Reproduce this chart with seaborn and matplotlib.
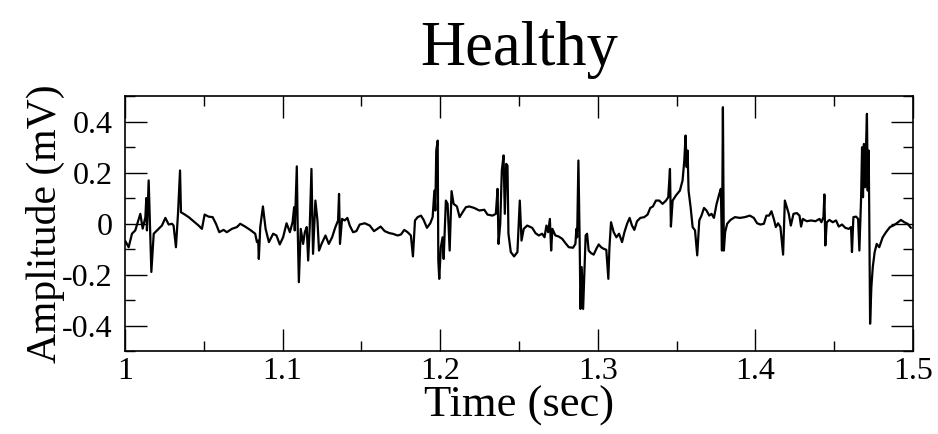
import matplotlib
matplotlib.use("Agg")
import matplotlib.pyplot as plt
from matplotlib.ticker import MultipleLocator
import seaborn as sns
import pandas as pd

# ECG trace (time in s, amplitude in mV)
time = [
    1.0000, 1.0023, 1.0044, 1.0065, 1.0097, 1.0112, 1.0129, 1.0135, 1.0139, 1.0150,
    1.0167, 1.0182, 1.0213, 1.0234, 1.0256, 1.0277, 1.0298, 1.0308, 1.0323, 1.0336,
    1.0349, 1.0355, 1.0372, 1.0404, 1.0435, 1.0467, 1.0488, 1.0505, 1.0530, 1.0556,
    1.0577, 1.0598, 1.0625, 1.0646, 1.0678, 1.0710, 1.0731, 1.0762, 1.0794, 1.0826,
    1.0837, 1.0845, 1.0849, 1.0858, 1.0875, 1.0892, 1.0913, 1.0940, 1.0961, 1.0982,
    1.1003, 1.1025, 1.1046, 1.1063, 1.1073, 1.1077, 1.1090, 1.1096, 1.1103, 1.1115,
    1.1130, 1.1141, 1.1153, 1.1162, 1.1172, 1.1183, 1.1193, 1.1208, 1.1221, 1.1231,
    1.1247, 1.1272, 1.1293, 1.1314, 1.1335, 1.1352, 1.1358, 1.1364, 1.1377, 1.1394,
    1.1411, 1.1426, 1.1447, 1.1468, 1.1489, 1.1521, 1.1553, 1.1580, 1.1601, 1.1622,
    1.1648, 1.1679, 1.1698, 1.1730, 1.1751, 1.1772, 1.1793, 1.1814, 1.1827, 1.1840,
    1.1857, 1.1878, 1.1895, 1.1916, 1.1937, 1.1952, 1.1963, 1.1969, 1.1975, 1.1984,
    1.1988, 1.1994, 1.2004, 1.2015, 1.2022, 1.2036, 1.2047, 1.2060, 1.2072, 1.2085,
    1.2106, 1.2123, 1.2142, 1.2163, 1.2184, 1.2216, 1.2248, 1.2280, 1.2300, 1.2332,
    1.2353, 1.2364, 1.2370, 1.2381, 1.2391, 1.2402, 1.2410, 1.2419, 1.2427, 1.2433,
    1.2448, 1.2469, 1.2490, 1.2505, 1.2516, 1.2530, 1.2552, 1.2584, 1.2605, 1.2626,
    1.2647, 1.2662, 1.2674, 1.2685, 1.2696, 1.2704, 1.2712, 1.2731, 1.2752, 1.2774,
    1.2795, 1.2816, 1.2843, 1.2858, 1.2864, 1.2869, 1.2877, 1.2885, 1.2890, 1.2898,
    1.2907, 1.2915, 1.2923, 1.2932, 1.2942, 1.2957, 1.2974, 1.2991, 1.3006, 1.3021,
    1.3037, 1.3054, 1.3067, 1.3074, 1.3084, 1.3101, 1.3118, 1.3135, 1.3154, 1.3169,
    1.3186, 1.3202, 1.3217, 1.3232, 1.3249, 1.3270, 1.3295, 1.3316, 1.3333, 1.3350,
    1.3369, 1.3390, 1.3411, 1.3433, 1.3447, 1.3458, 1.3464, 1.3475, 1.3496, 1.3521,
    1.3538, 1.3549, 1.3557, 1.3564, 1.3570, 1.3576, 1.3589, 1.3602, 1.3617, 1.3631,
    1.3644, 1.3658, 1.3674, 1.3690, 1.3707, 1.3722, 1.3737, 1.3754, 1.3771, 1.3781,
    1.3788, 1.3794, 1.3800, 1.3808, 1.3821, 1.3842, 1.3870, 1.3902, 1.3933, 1.3965,
    1.3990, 1.4011, 1.4032, 1.4054, 1.4070, 1.4087, 1.4102, 1.4117, 1.4130, 1.4144,
    1.4159, 1.4176, 1.4187, 1.4212, 1.4225, 1.4242, 1.4263, 1.4280, 1.4290, 1.4301,
    1.4326, 1.4354, 1.4381, 1.4407, 1.4419, 1.4432, 1.4438, 1.4444, 1.4453, 1.4470,
    1.4491, 1.4512, 1.4529, 1.4550, 1.4571, 1.4593, 1.4607, 1.4613, 1.4622, 1.4639,
    1.4652, 1.4660, 1.4671, 1.4677, 1.4683, 1.4689, 1.4696, 1.4702, 1.4708, 1.4713,
    1.4719, 1.4723, 1.4728, 1.4736, 1.4745, 1.4757, 1.4770, 1.4786, 1.4808, 1.4829,
    1.4854, 1.4875, 1.4897, 1.4924, 1.4945, 1.4966, 1.4987,
]
amplitude = [
    -0.067, -0.093, -0.040, -0.027, 0.038, -0.020, 0.025, 0.100, -0.027, 0.169,
    -0.190, -0.040, -0.021, -0.008, 0.022, -0.004, -0.001, -0.008, -0.093, 0.038,
    0.208, 0.044, 0.038, 0.025, 0.009, -0.008, -0.021, 0.035, 0.027, 0.025,
    -0.001, -0.034, -0.025, -0.034, -0.021, -0.014, -0.001, -0.012, -0.025, -0.040,
    -0.073, -0.067, -0.139, -0.014, 0.067, -0.021, -0.073, -0.040, -0.047, -0.082,
    -0.054, 0.001, -0.034, 0.005, 0.064, -0.027, 0.224, -0.027, -0.230, -0.021,
    -0.080, -0.034, -0.014, -0.145, -0.014, 0.214, -0.119, 0.090, 0.012, -0.106,
    -0.080, -0.047, -0.080, -0.054, -0.014, 0.012, 0.116, -0.080, 0.018, 0.012,
    0.022, -0.008, -0.034, -0.030, -0.004, 0.001, -0.008, -0.030, -0.021, -0.012,
    -0.030, -0.038, -0.040, -0.047, -0.043, -0.025, -0.034, -0.047, -0.129, 0.012,
    0.025, 0.031, 0.014, -0.017, 0.001, 0.025, 0.129, 0.051, 0.286, 0.325,
    -0.145, -0.217, -0.093, -0.054, -0.139, 0.090, 0.077, -0.106, 0.127, 0.077,
    0.067, 0.025, 0.044, 0.064, 0.067, 0.061, 0.051, 0.054, 0.035, 0.031,
    0.038, 0.136, -0.080, -0.001, 0.208, 0.267, 0.038, 0.234, 0.227, -0.040,
    -0.112, -0.129, -0.112, 0.090, -0.067, -0.021, -0.008, -0.017, -0.038, -0.047,
    -0.040, -0.054, -0.008, -0.034, 0.018, -0.106, -0.021, -0.047, -0.051, -0.060,
    -0.077, -0.093, -0.095, -0.080, -0.021, -0.054, 0.247, -0.067, -0.335, -0.171,
    -0.335, -0.197, -0.047, -0.040, -0.106, -0.116, -0.122, -0.099, -0.082, -0.093,
    -0.099, -0.103, -0.217, -0.093, 0.005, -0.034, -0.054, -0.040, -0.073, -0.034,
    -0.001, 0.022, -0.008, -0.025, 0.009, 0.022, 0.025, 0.035, 0.061, 0.067,
    0.090, 0.090, 0.077, 0.090, 0.103, 0.214, -0.012, 0.090, 0.110, 0.129,
    0.169, 0.247, 0.345, 0.221, 0.286, 0.129, 0.064, -0.014, -0.027, -0.125,
    0.012, 0.031, 0.061, 0.051, 0.031, 0.038, 0.022, 0.077, 0.116, 0.136,
    -0.106, 0.456, -0.106, -0.034, -0.001, 0.014, 0.025, 0.022, 0.025, 0.031,
    0.022, 0.001, -0.004, -0.001, 0.031, 0.031, 0.048, 0.018, -0.014, 0.001,
    -0.014, -0.122, 0.090, 0.038, -0.008, 0.038, 0.041, 0.031, -0.012, 0.018,
    0.009, 0.012, 0.009, 0.018, 0.005, 0.025, 0.114, -0.086, 0.005, 0.014,
    0.005, 0.012, -0.012, -0.004, -0.017, -0.021, -0.014, -0.112, 0.025, 0.027,
    0.018, -0.106, 0.103, 0.299, 0.103, 0.312, 0.142, 0.299, 0.430, 0.129,
    0.286, 0.018, -0.393, -0.250, -0.171, -0.112, -0.080, -0.093, -0.054, -0.034,
    -0.014, -0.008, 0.001, 0.014, 0.005, -0.001, -0.017,
]

sns.set_style("white")
plt.rcParams['font.family'] = ['Liberation Serif', 'DejaVu Serif']
plt.rcParams['text.color'] = 'black'
plt.rcParams['axes.labelcolor'] = 'black'
plt.rcParams['xtick.color'] = 'black'
plt.rcParams['ytick.color'] = 'black'

df = pd.DataFrame({"Time": time, "Amplitude": amplitude})

fig = plt.figure(figsize=(9.38, 4.34), dpi=100)
ax = fig.add_axes([0.1333, 0.1912, 0.8400, 0.5876])

sns.lineplot(data=df, x="Time", y="Amplitude", color="black", linewidth=1.6,
             sort=False, estimator=None, ax=ax)

ax.set_xlim(1, 1.5)
ax.set_ylim(-0.5, 0.5)
ax.xaxis.set_minor_locator(MultipleLocator(0.05))
ax.yaxis.set_minor_locator(MultipleLocator(0.1))
ax.set_xticks([1, 1.1, 1.2, 1.3, 1.4, 1.5])
ax.set_xticklabels(["1", "1.1", "1.2", "1.3", "1.4", "1.5"])
ax.set_yticks([-0.4, -0.2, 0, 0.2, 0.4])
ax.set_yticklabels(["-0.4", "-0.2", "0", "0.2", "0.4"])

ax.tick_params(which='both', direction='in', top=True, right=True,
               bottom=True, left=True, color='black')
ax.tick_params(which='major', length=16, width=1.0, labelsize=23, pad=4)
ax.tick_params(axis='y', which='major', pad=9)
ax.tick_params(which='minor', length=7, width=1.0)
for s in ax.spines.values():
    s.set_visible(True)
    s.set_color('black')
    s.set_linewidth(1.2)

ax.set_xlabel("Time (sec)", fontsize=32, labelpad=0)
ax.set_ylabel("Amplitude (mV)", fontsize=30, labelpad=-2)
ax.set_title("Healthy", fontsize=45, pad=22)

fig.savefig("out.png", dpi=100)
